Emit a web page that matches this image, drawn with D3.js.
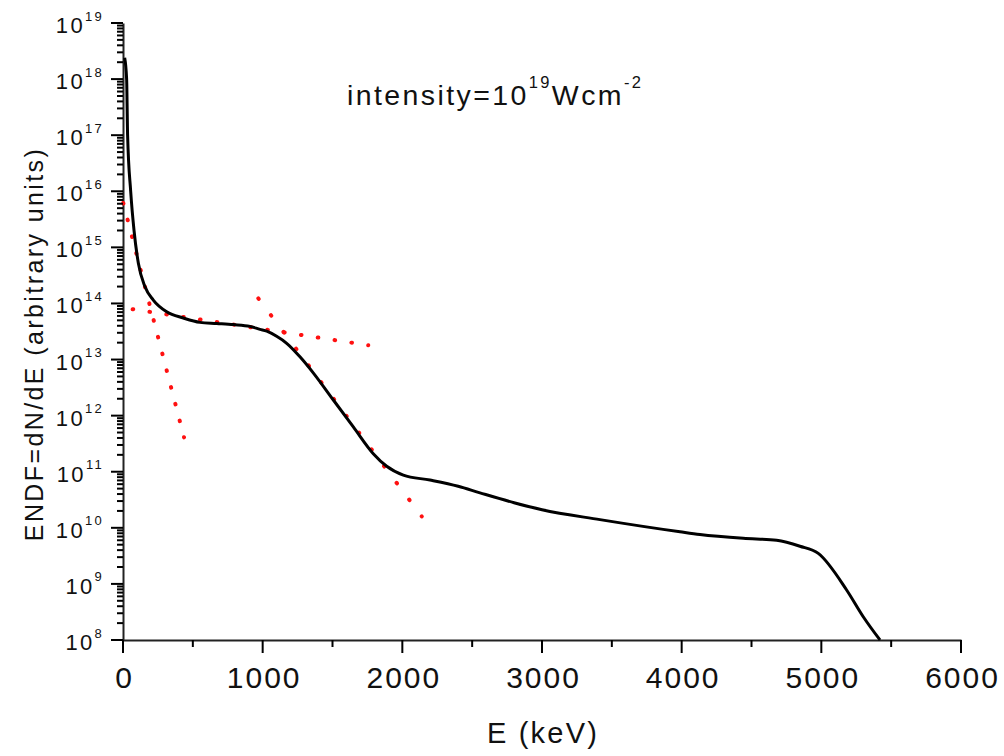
<!DOCTYPE html>
<html lang="en">
<head>
<meta charset="UTF-8">
<title>ENDF spectrum</title>
<script src="https://d3js.org/d3.v7.min.js"></script>
<style>
  body { margin: 0; background: #fff; }
  svg text { font-family: "Liberation Sans", Arial, sans-serif; fill: #111; }
</style>
</head>
<body>
<div id="chart"></div>
<script>
// electron energy distribution
const energy = [12, 26, 33, 55, 79, 110, 157, 217, 313, 432, 551, 671, 790, 909, 981, 1029,
  1100, 1172, 1267, 1362, 1506, 1649, 1792, 1888, 2007, 2198, 2400, 2556, 2800,
  3000, 3415, 3988, 4131, 4441, 4680, 4847, 4978, 5181, 5300, 5420];
const endf = [2.4e18, 1.0e18, 1.0e17, 1.0e16, 2.0e15, 5.2e14, 2.0e14, 1.15e14, 7.1e13, 5.5e13,
  4.6e13, 4.4e13, 4.2e13, 3.9e13, 3.45e13, 3.2e13, 2.6e13, 1.95e13, 1.12e13, 5.8e12, 1.9e12,
  6.3e11, 2.1e11, 1.25e11, 8.7e10, 7.1e10, 5.5e10, 4.2e10, 2.8e10, 2.1e10, 1.4e10,
  8.5e9, 7.6e9, 6.5e9, 6.0e9, 4.7e9, 3.5e9, 7.8e8, 2.6e8, 1.0e8];

// dotted exponential fits (end points)
const fitLowE = [2, 437], fitLowV = [6.2e15, 4.1e11];
const fitMidE = [69, 1756], fitMidV = [7.9e13, 1.8e13];
const fitHighE = [969, 2139], fitHighV = [1.23e14, 1.6e10];

const xTicks = [0, 1000, 2000, 3000, 4000, 5000, 6000];
const xMinorTicks = [500, 1500, 2500, 3500, 4500, 5500];
const yExponents = [8, 9, 10, 11, 12, 13, 14, 15, 16, 17, 18, 19];

const margin = { top: 23, right: 43, bottom: 116, left: 123 };
const width = 1004 - margin.left - margin.right;
const height = 756 - margin.top - margin.bottom;

const svg = d3.select("#chart").append("svg")
  .attr("width", 1004)
  .attr("height", 756);
const g = svg.append("g").attr("transform", `translate(${margin.left},${margin.top})`);

const x = d3.scaleLinear().domain([0, 6000]).range([0, width]);
const y = d3.scaleLog().domain([1e8, 1e19]).range([height, 0]);

const yMajor = yExponents.map(e => Math.pow(10, e));
const yMinor = yExponents.slice(0, -1).flatMap(e => [2, 3, 4, 5, 6, 7, 8, 9].map(k => k * Math.pow(10, e)));

// axes: d3 draws the domain lines and labels
const xAxis = g.append("g")
  .attr("transform", `translate(0,${height})`)
  .call(d3.axisBottom(x).tickValues(xTicks).tickSize(0).tickFormat(d3.format("d")));
xAxis.attr("font-family", null).attr("font-size", null);
xAxis.select(".domain").attr("stroke", "#222").attr("stroke-width", 2);
xAxis.selectAll(".tick text")
  .attr("y", 48).attr("dy", 0).attr("dx", 1)
  .attr("font-size", 30).attr("letter-spacing", 2)
  .attr("fill", "#111");

const yAxis = g.append("g")
  .call(d3.axisLeft(y).tickValues(yMajor).tickSize(0).tickFormat(""));
yAxis.attr("font-family", null).attr("font-size", null);
yAxis.select(".domain").attr("stroke", "#222").attr("stroke-width", 2);
yAxis.selectAll(".tick text").remove();
const yLab = yAxis.selectAll(".tick").append("text")
  .attr("x", -19).attr("y", 9.5)
  .attr("text-anchor", "end")
  .attr("font-size", 22).attr("letter-spacing", 2.3)
  .attr("fill", "#111");
yLab.append("tspan").text("10");
yLab.append("tspan").attr("dy", -12.5).attr("font-size", 13).text(d => Math.round(Math.log10(d)));

// dotted fits: [energies, values, number of dots]
const fitLine = d3.line().x(d => x(d[0])).y(d => y(d[1]));
[[fitLowE, fitLowV, 15], [fitMidE, fitMidV, 15], [fitHighE, fitHighV, 14]].forEach(([es, vs, n]) => {
  const p = g.append("path")
    .datum(es.map((e, i) => [e, vs[i]]))
    .attr("fill", "none")
    .attr("stroke", "#ff1010")
    .attr("stroke-width", 4)
    .attr("stroke-linecap", "round")
    .attr("d", fitLine);
  const step = (p.node().getTotalLength() - 0.05) / (n - 1);
  p.attr("stroke-dasharray", `0.6 ${step - 0.6}`);
});

// spectrum
const line = d3.line()
  .x((d, i) => x(energy[i]))
  .y(d => y(d))
  .curve(d3.curveMonotoneX);
g.append("path")
  .datum(endf)
  .attr("fill", "none")
  .attr("stroke", "#000")
  .attr("stroke-width", 3)
  .attr("stroke-linejoin", "round")
  .attr("d", line);

// annotation
const ann = svg.append("text")
  .attr("x", 347).attr("y", 105)
  .attr("font-size", 28.5).attr("letter-spacing", 2.4);
ann.append("tspan").text("intensity=10");
ann.append("tspan").attr("dy", -17).attr("font-size", 16.5).text("19");
ann.append("tspan").attr("dy", 17).text("Wcm");
ann.append("tspan").attr("dy", -17).attr("font-size", 16.5).text("-2");

// axis titles
svg.append("text")
  .attr("x", margin.left + width / 2 + 1).attr("y", 743)
  .attr("text-anchor", "middle")
  .attr("font-size", 29).attr("letter-spacing", 2.2)
  .text("E (keV)");

svg.append("text")
  .attr("transform", "translate(43,344) rotate(-90)")
  .attr("text-anchor", "middle")
  .attr("font-size", 25).attr("letter-spacing", 2.4)
  .text("ENDF=dN/dE (arbitrary units)");

// tick marks, drawn last at the top level
const ticks = svg.append("g").attr("class", "tickmarks");
[[xTicks, 13], [xMinorTicks, 7]].forEach(([vals, len]) => {
  ticks.selectAll(null).data(vals).enter().append("line")
    .attr("x1", d => margin.left + x(d)).attr("x2", d => margin.left + x(d))
    .attr("y1", margin.top + height).attr("y2", margin.top + height + len)
    .attr("stroke", "#000").attr("stroke-width", 2);
});
[[yMajor, 12], [yMinor, 6]].forEach(([vals, len]) => {
  ticks.selectAll(null).data(vals).enter().append("line")
    .attr("x1", margin.left).attr("x2", margin.left - len)
    .attr("y1", d => margin.top + y(d)).attr("y2", d => margin.top + y(d))
    .attr("stroke", "#000").attr("stroke-width", 2);
});
</script>
</body>
</html>
